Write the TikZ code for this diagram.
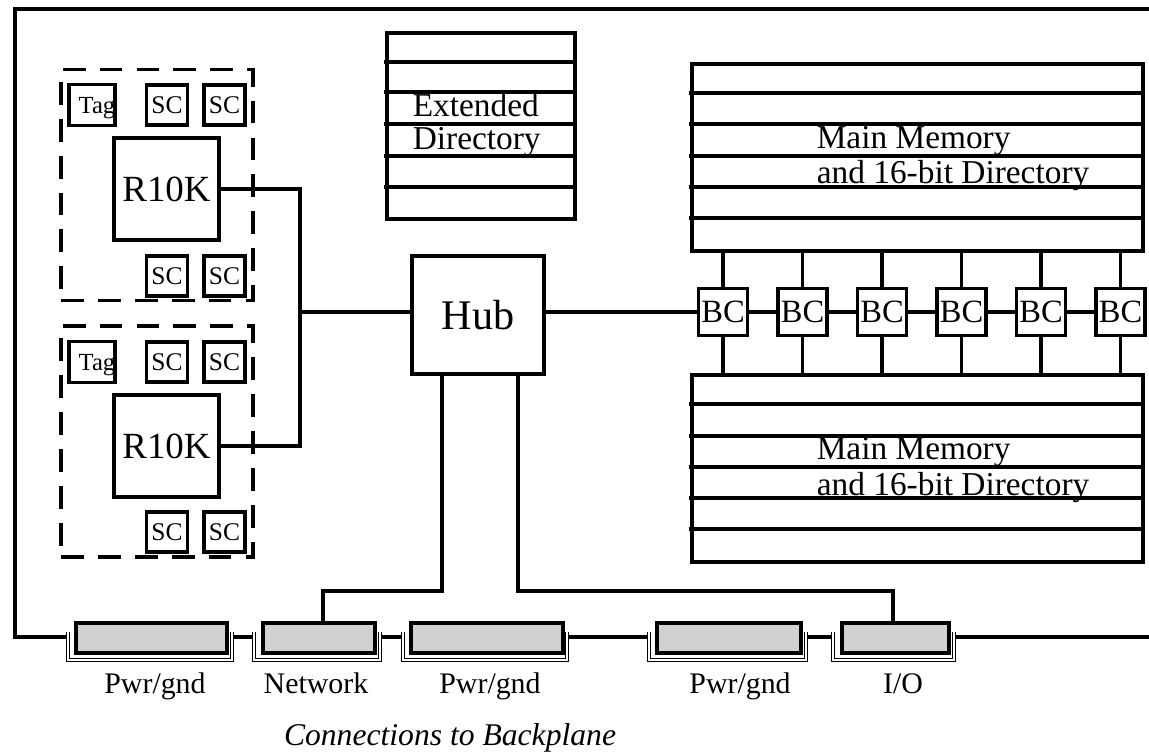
\documentclass[tikz,border=0pt]{standalone}
\usepackage{fontspec}
\setmainfont{Liberation Serif}
\usetikzlibrary{positioning, calc}

\begin{document}
\begin{tikzpicture}[x=0.02cm, y=-0.02cm, line width=2pt, node distance=0.26cm]
    \tikzstyle{box} = [rectangle, draw, inner sep=0pt]
    \tikzstyle{cpu} = [box, minimum width=2.1cm, minimum height=2.04cm, font=\fontsize{21}{24}\selectfont]
    \tikzstyle{cache} = [box, minimum width=0.82cm, minimum height=0.8cm, font=\fontsize{14.5}{16}\selectfont]
    \tikzstyle{tagbox} = [box, minimum width=0.92cm, minimum height=0.82cm, text depth=0pt, font=\fontsize{14}{15}\selectfont]
    \tikzstyle{module} = [draw, dash pattern=on 13pt off 8pt, minimum width=3.84cm, minimum height=4.62cm]
    \tikzstyle{hubbox} = [box, minimum width=2.64cm, minimum height=2.36cm, font=\fontsize{24}{27}\selectfont]
    \tikzstyle{bcbox} = [box, minimum width=0.98cm, minimum height=0.94cm, font=\fontsize{18.5}{20}\selectfont]
    \tikzstyle{membox} = [box, minimum width=9.02cm, minimum height=3.74cm]
    \tikzstyle{memtext} = [inner sep=0pt, align=left, anchor=west, font=\fontsize{19}{20.4}\selectfont]
    \tikzstyle{bracket} = [draw, fill=white, double, double distance=0.9pt, line width=0.9pt]
    \tikzstyle{plug} = [rectangle, draw, line width=2.4pt, fill=black!18, minimum height=0.6cm]
    \tikzstyle{lbl} = [anchor=base, font=\fontsize{17}{20}\selectfont]

    \useasboundingbox (0,0) rectangle (1149,754);

    % Board outline
    \draw (1149,9) -- (15,9) -- (15,637) -- (1149,637);

    % Upper processor module
    \node[module] (mod1) at (157,185) {};
    \node[tagbox] (tag1) at (92,105) {\makebox[0pt]{\hspace{0.2cm}Tag}};
    \node[cache] (sc1) at (167,105) {\makebox[0pt]{SC}};
    \node[cache] (sc2) [right=0.26cm of sc1] {\makebox[0pt]{SC}};
    \node[cpu] (cpu1) at (166.5,189) {R10K};
    \node[cache] (sc3) at (167,276) {\makebox[0pt]{SC}};
    \node[cache] (sc4) [right=0.26cm of sc3] {\makebox[0pt]{SC}};

    % Lower processor module
    \node[module] (mod2) at (157,441.5) {};
    \node[tagbox] (tag2) at (92,362) {\makebox[0pt]{\hspace{0.2cm}Tag}};
    \node[cache] (sc5) at (167,362) {\makebox[0pt]{SC}};
    \node[cache] (sc6) [right=0.26cm of sc5] {\makebox[0pt]{SC}};
    \node[cpu] (cpu2) at (166.5,446) {R10K};
    \node[cache] (sc7) at (167,532) {\makebox[0pt]{SC}};
    \node[cache] (sc8) [right=0.26cm of sc7] {\makebox[0pt]{SC}};

    % Hub and directory
    \node[hubbox] (hub) at (478,315) {Hub};
    \node[box, minimum width=3.76cm, minimum height=3.72cm] (xdir) at (481,126) {};
    \draw (384,62) -- (575,62) (384,92) -- (575,92) (384,124) -- (575,124)
          (384,156) -- (575,156) (384,187) -- (575,187);
    \node[memtext, font=\fontsize{19}{18.5}\selectfont] (xdirtext) at (411,125) {Extended\\Directory};

    % Main memory banks
    \node[membox] (mem1) at (917.5,157.5) {};
    \draw (689,93) -- (1143,93) (689,124) -- (1143,124) (689,156) -- (1143,156)
          (689,187) -- (1143,187) (689,218) -- (1143,218);
    \node[memtext] (mem1text) at (815,158.5) {Main Memory\\and 16-bit Directory};
    \node[membox] (mem2) at (917.5,468.5) {};
    \draw (689,404) -- (1143,404) (689,436) -- (1143,436) (689,467) -- (1143,467)
          (689,498) -- (1143,498) (689,529) -- (1143,529);
    \node[memtext] (mem2text) at (815,470) {Main Memory\\and 16-bit Directory};

    % Bus controllers
    \node[bcbox] (bc1) at (723,312) {\makebox[0pt]{BC}};
    \node[bcbox] (bc2) [right=0.54cm of bc1] {\makebox[0pt]{BC}};
    \node[bcbox] (bc3) [right=0.54cm of bc2] {\makebox[0pt]{BC}};
    \node[bcbox] (bc4) [right=0.54cm of bc3] {\makebox[0pt]{BC}};
    \node[bcbox] (bc5) [right=0.54cm of bc4] {\makebox[0pt]{BC}};
    \node[bcbox] (bc6) [right=0.54cm of bc5] {\makebox[0pt]{BC}};

    % Backplane connectors
    \draw[bracket] (68,632) |- (232,660) -- (232,632);
    \draw[bracket] (254,632) |- (380,660) -- (380,632);
    \draw[bracket] (403,632) |- (567,660) -- (567,632);
    \draw[bracket] (649,632) |- (806,660) -- (806,632);
    \draw[bracket] (833,632) |- (954,660) -- (954,632);
    \node[plug, minimum width=3.02cm] (pwr1) at (151.5,638) {};
    \node[plug, minimum width=2.24cm] (net) at (319,638) {};
    \node[plug, minimum width=3.04cm] (pwr2) at (487,638) {};
    \node[plug, minimum width=2.88cm] (pwr3) at (729,638) {};
    \node[plug, minimum width=2.14cm] (io) at (895.5,638) {};

    \node[lbl] (pwr1lbl) at (155,693) {Pwr/gnd};
    \node[lbl] (netlbl) at (316,693) {Network};
    \node[lbl] (pwr2lbl) at (490,693) {Pwr/gnd};
    \node[lbl] (pwr3lbl) at (740,693) {Pwr/gnd};
    \node[lbl] (iolbl) at (903,693) {I/O};
    \node[lbl, font=\fontsize{18}{20}\selectfont\itshape] (caption) at (450,745) {Connections to Backplane};

    % Wiring
    \coordinate (cpubus) at (300,312);
    \draw (cpu1.east) -| (cpubus) |- (cpu2.east);
    \draw (cpubus) -- (cpubus -| hub.west);
    \draw (hub.east |- bc1.west) -- (bc1.west);
    \draw (bc1) -- (bc2);
    \draw (bc2) -- (bc3);
    \draw (bc3) -- (bc4);
    \draw (bc4) -- (bc5);
    \draw (bc5) -- (bc6);
    \draw (bc1.north) -- (bc1.north |- mem1.south) (bc1.south) -- (bc1.south |- mem2.north);
    \draw (bc2.north) -- (bc2.north |- mem1.south) (bc2.south) -- (bc2.south |- mem2.north);
    \draw (bc3.north) -- (bc3.north |- mem1.south) (bc3.south) -- (bc3.south |- mem2.north);
    \draw (bc4.north) -- (bc4.north |- mem1.south) (bc4.south) -- (bc4.south |- mem2.north);
    \draw (bc5.north) -- (bc5.north |- mem1.south) (bc5.south) -- (bc5.south |- mem2.north);
    \draw (bc6.north) -- (bc6.north |- mem1.south) (bc6.south) -- (bc6.south |- mem2.north);
    \coordinate (netbus) at (323,591);
    \coordinate (iobus) at (893,591);
    \draw ([xshift=-0.72cm]hub.south) |- (netbus) -- (netbus |- net.north);
    \draw ([xshift=0.8cm]hub.south) |- (iobus) -- (iobus |- io.north);
\end{tikzpicture}
\end{document}
